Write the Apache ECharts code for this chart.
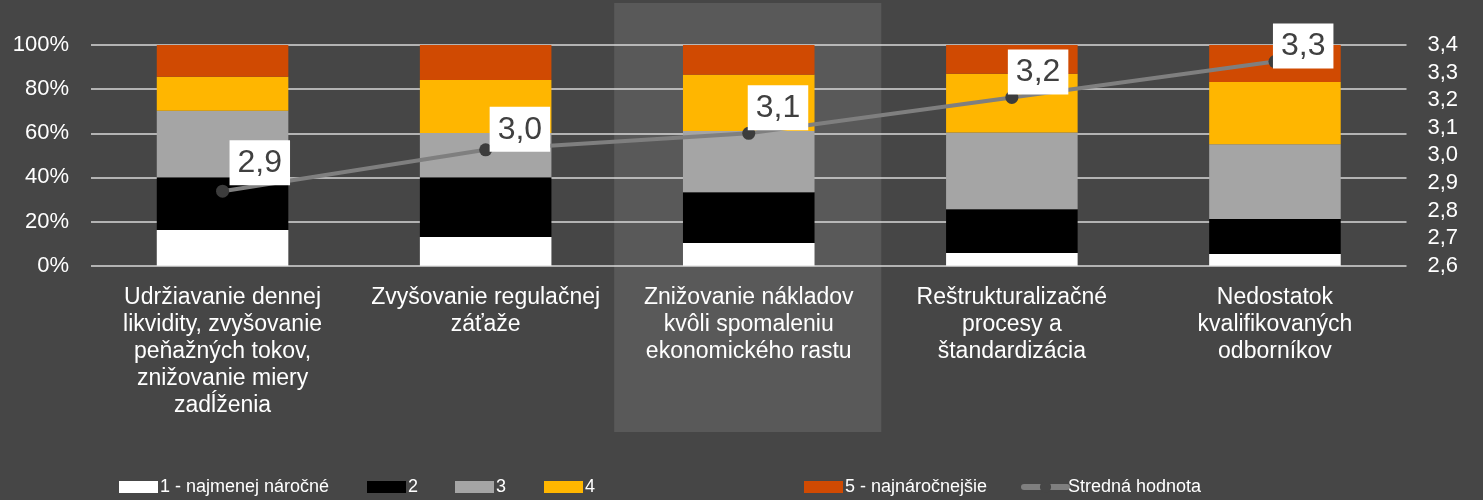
<!DOCTYPE html>
<html>
<head>
<meta charset="utf-8">
<script src="https://cdn.jsdelivr.net/npm/echarts@6/dist/echarts.min.js"></script>
<style>
html,body{margin:0;padding:0;background:#464646;}
#c{width:1483px;height:500px;}
</style>
</head>
<body>
<div id="c"></div>
<script>
var categories = [
  "Udržiavanie dennej\nlikvidity, zvyšovanie\npeňažných tokov,\nznižovanie miery\nzadĺženia",
  "Zvyšovanie regulačnej\nzáťaže",
  "Znižovanie nákladov\nkvôli spomaleniu\nekonomického rastu",
  "Reštrukturalizačné\nprocesy a\nštandardizácia",
  "Nedostatok\nkvalifikovaných\nodborníkov"
];
var seriesNames = ["1 - najmenej náročné", "2", "3", "4", "5 - najnáročnejšie", "Stredná hodnota"];
var s1 = [16.2, 13.0, 10.3, 5.8, 5.3];
var s2 = [23.9, 27.1, 23.0, 19.8, 15.9];
var s3 = [30.1, 20.0, 27.7, 34.8, 33.8];
var s4 = [15.4, 24.0, 25.5, 26.6, 28.2];
var s5 = [14.4, 15.9, 13.5, 13.0, 16.8];
var meanValues = [2.87, 3.02, 3.08, 3.21, 3.34];
var leftTicks = [0, 20, 40, 60, 80, 100];
var rightTicks = [2.6, 2.7, 2.8, 2.9, 3.0, 3.1, 3.2, 3.3, 3.4];
var highlightIndex = 2;

// layout/style helpers (not data)
var labelOffsets = [[7, -6], [4, 2], [-1, -3], [-4, -3], [-2, 7]];
var legendLefts = [119, 367, 455, 544, 804, 1021];

var colors = ["#ffffff", "#000000", "#a5a5a5", "#ffb600", "#d04a02"];
var font = "'Liberation Sans', Arial, sans-serif";
var chart = echarts.init(document.getElementById('c'));

function barSeries(name, data, color) {
  return {
    name: name, type: 'bar', stack: 'total', data: data, barWidth: '50%',
    yAxisIndex: 0, itemStyle: { color: color }, z: 2
  };
}

var legends = seriesNames.map(function (n, i) {
  var lg = {
    left: legendLefts[i], top: 478, padding: 0,
    itemWidth: i < 5 ? 39 : 43, itemHeight: i < 5 ? 12 : 14,
    textStyle: { color: '#ffffff', fontSize: 18, fontFamily: font, padding: [0, 0, 0, -3] },
    data: [i < 5 ? { name: n, icon: 'rect' } : { name: n }]
  };
  if (i === 5) {
    lg.lineStyle = { width: 6, color: '#7f7f7f', cap: 'round' };
    lg.itemStyle = { color: '#464646' };
    lg.textStyle.padding = [0, 0, 0, -4];
  }
  return lg;
});

var lineData = meanValues.map(function (v, i) {
  return { value: v, label: { offset: labelOffsets[i] } };
});

var option = {
  backgroundColor: '#464646',
  animation: false,
  textStyle: { fontFamily: font },
  grid: { left: 91, right: 76.5, top: 45, bottom: 234.3 },
  legend: legends,
  xAxis: {
    type: 'category', data: categories,
    axisLine: { show: false }, axisTick: { show: false },
    axisLabel: { color: '#ffffff', fontSize: 23, lineHeight: 27, margin: 18, interval: 0, fontFamily: font }
  },
  yAxis: [
    {
      type: 'value', min: leftTicks[0], max: leftTicks[leftTicks.length - 1], interval: 20,
      axisLine: { show: false }, axisTick: { show: false },
      axisLabel: { color: '#ffffff', fontSize: 22, margin: 22, formatter: '{value}%', fontFamily: font },
      splitLine: { lineStyle: { color: '#d9d9d9', width: 1.5 } }
    },
    {
      type: 'value', min: rightTicks[0], max: rightTicks[rightTicks.length - 1], interval: 0.1,
      axisLine: { show: false }, axisTick: { show: false },
      axisLabel: {
        color: '#ffffff', fontSize: 22, margin: 21, fontFamily: font,
        formatter: function (v) { return v.toFixed(1).replace('.', ','); }
      },
      splitLine: { show: false }
    }
  ],
  series: [
    barSeries(seriesNames[0], s1, colors[0]),
    barSeries(seriesNames[1], s2, colors[1]),
    barSeries(seriesNames[2], s3, colors[2]),
    barSeries(seriesNames[3], s4, colors[3]),
    barSeries(seriesNames[4], s5, colors[4]),
    {
      name: seriesNames[5], type: 'line', yAxisIndex: 1, data: lineData, z: 5,
      symbol: 'circle', symbolSize: 13,
      lineStyle: { color: '#7f7f7f', width: 4 },
      itemStyle: { color: '#3c3c3c' },
      label: {
        show: true, position: [6.5, 6.5], align: 'left', verticalAlign: 'bottom',
        backgroundColor: '#ffffff', color: '#404040', fontSize: 32, fontFamily: font,
        padding: [4, 8, 3, 8], lineHeight: 38,
        formatter: function (p) { return p.value.toFixed(1).replace('.', ','); }
      }
    }
  ]
};
chart.setOption(option);

var c0 = chart.convertToPixel({ xAxisIndex: 0 }, 0);
var c1 = chart.convertToPixel({ xAxisIndex: 0 }, 1);
var band = c1 - c0;
var hc = chart.convertToPixel({ xAxisIndex: 0 }, highlightIndex);
chart.setOption({
  graphic: [{
    type: 'rect', z: -10, silent: true,
    shape: { x: hc - band / 2 - 3, y: 3, width: band + 4, height: 429 },
    style: { fill: '#595959' }
  }]
});
</script>
</body>
</html>
